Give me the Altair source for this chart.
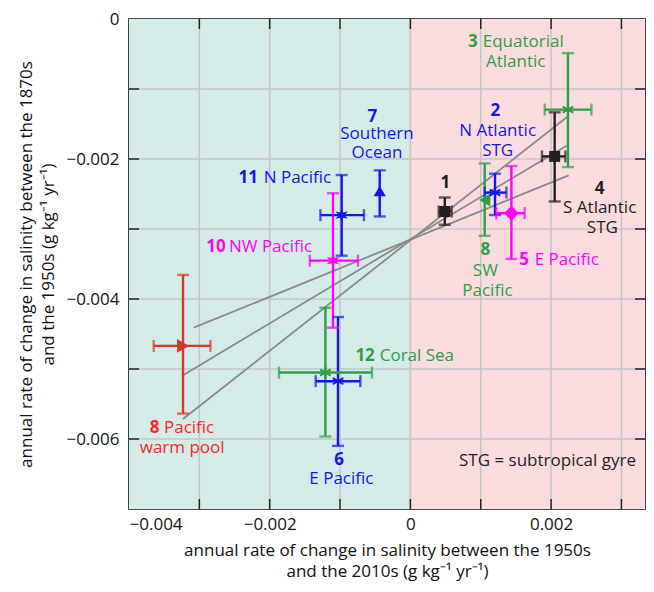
import math
import altair as alt
import pandas as pd

# ---------------- data ----------------
region_ids = ["1", "2", "3", "4", "5", "8sw", "7", "11", "10", "8wp", "12", "6"]
x_center = [0.000489, 0.001203, 0.00224, 0.002051, 0.001436, 0.001056,
            -0.000436, -0.000977, -0.0011, -0.003232, -0.001208, -0.001029]
y_center = [-0.00275, -0.00248, -0.001294, -0.001963, -0.002774, -0.002585,
            -0.002457, -0.002802, -0.003452, -0.00467, -0.00505, -0.005174]
x_low = [0.000402, 0.001056, 0.00191, 0.001871, 0.001222, 0.001056,
         -0.000436, -0.001279, -0.001431, -0.003649, -0.001868, -0.001346]
x_high = [0.000587, 0.001365, 0.002573, 0.002203, 0.001625, 0.001056,
          -0.000436, -0.00066, -0.000745, -0.002843, -0.000546, -0.000711]
y_low = [-0.00294, -0.0028, -0.002115, -0.002607, -0.003428, -0.003097,
         -0.002821, -0.003381, -0.00441, -0.005637, -0.005964, -0.006098]
y_high = [-0.00255, -0.00221, -0.000488, -0.001333, -0.0021, -0.002063,
          -0.002162, -0.002229, -0.002489, -0.003656, -0.004125, -0.004257]

# regression lines
fit_x1 = [-0.00308, -0.003232, -0.003232]
fit_y1 = [-0.00441, -0.005088, -0.005714]
fit_x2 = [0.00225, 0.002226, 0.00224]
fit_y2 = [-0.002233, -0.001807, -0.00139]

# axis extents and background halves
x_min, x_max = -0.004, 0.003335
y_min, y_max = -0.007, 0.0
bg_x1 = [x_min, 0.0]
bg_x2 = [0.0, x_max]

# grid / tick values
x_grid = [-0.003, -0.002, -0.001, 0.0, 0.001, 0.002, 0.003]
y_grid = [-0.006, -0.005, -0.004, -0.003, -0.002, -0.001]
x_ticks = [-0.004, -0.003, -0.002, -0.001, 0.0, 0.001, 0.002, 0.003]
y_ticks = [-0.007, -0.006, -0.005, -0.004, -0.003, -0.002, -0.001, 0.0]

# annotations: bold numbers
num_text = ["3", "2", "1", "4", "8", "5", "7", "11", "10", "12", "8", "6"]
num_region = ["3", "2", "1", "4", "8sw", "5", "7", "11", "10", "12", "8wp_t", "6"]
num_x = [0.000957, 0.001208, 0.000498, 0.002691, 0.001066, 0.001686,
         -0.00054, -0.002166, -0.002625, -0.000782, -0.003706, -0.001015]
num_y = [-0.000327, -0.001309, -0.002347, -0.002432, -0.0033, -0.003438,
         -0.001398, -0.002266, -0.003262, -0.004812, -0.005846, -0.006297]
num_align = ["right", "center", "center", "center", "center", "right",
             "center", "right", "right", "left", "left", "center"]

# annotations: names
name_text = ["Equatorial", "Atlantic", "N Atlantic", "STG", "S Atlantic", "STG",
             "SW", "Pacific", "E Pacific", "Southern", "Ocean", "N Pacific",
             "NW Pacific", "Coral Sea", "Pacific", "warm pool", "E Pacific",
             "STG = subtropical gyre"]
name_region = ["3", "3", "2", "2", "4", "4", "8sw", "8sw", "5", "7", "7", "11",
               "10", "12", "8wp_t", "8wp_t", "6", "note"]
name_x = [0.001028, 0.001497, 0.001241, 0.001241, 0.002691, 0.002729,
          0.001066, 0.001095, 0.001767, -0.000475, -0.000475, -0.002085,
          -0.002579, -0.000436, -0.003503, -0.003244, -0.000981, 0.001949]
name_y = [-0.000327, -0.000612, -0.001603, -0.001888, -0.002707, -0.002987,
          -0.003595, -0.003889, -0.003438, -0.001636, -0.001921, -0.002266,
          -0.003262, -0.004812, -0.005846, -0.006131, -0.006567, -0.006321]
name_align = ["left", "center", "center", "center", "center", "center",
              "center", "center", "left", "center", "center", "left",
              "left", "left", "left", "center", "center", "center"]

# ---------------- styles ----------------
BLUE = "#1616e8"
GREEN = "#2f9e48"
MAGENTA = "#ff00ff"
RED = "#d3362c"
BLACK = "#231f20"
FONT = "Open Sans"
FS = 17

region_domain = ["1", "2", "3", "4", "5", "8sw", "7", "11", "10", "8wp", "12", "6", "8wp_t", "note"]
region_colors = [BLACK, BLUE, GREEN, BLACK, MAGENTA, GREEN, BLUE, BLUE, MAGENTA, RED, GREEN, BLUE, "#f42a2a", BLACK]
col = alt.Color("region:N", scale=alt.Scale(domain=region_domain, range=region_colors), legend=None)

ASTER = "M0,-1L0,1M-0.866,-0.5L0.866,0.5M-0.866,0.5L0.866,-0.5"
_star_pts = []
for k in range(12):
    r = 1.0 if k % 2 == 0 else 0.42
    ang = math.pi / 2 + k * math.pi / 6
    _star_pts.append("%.3f,%.3f" % (r * math.cos(ang), -r * math.sin(ang)))
STAR = "M" + "L".join(_star_pts) + "Z"

W, H = 516, 490
xs = alt.Scale(domain=[x_min, x_max], nice=False, zero=False)
ys = alt.Scale(domain=[y_min, y_max], nice=False, zero=False)

label_expr = ("abs(round(datum.value*1000)) % 2 == 0 ? "
              "(abs(datum.value) < 1e-9 ? '0' : format(datum.value, '.3f')) : ''")

axis_style = dict(grid=False, ticks=False, domain=False, labelExpr=label_expr,
                  labelFont=FONT, labelFontSize=FS, labelColor="#111",
                  titleFont=FONT, titleFontSize=FS, titleFontWeight="normal",
                  titleColor="#111")
x_axis = alt.Axis(values=x_ticks, labelPadding=7, titlePadding=10, titleLineHeight=21,
                  title=["annual rate of change in salinity between the 1950s",
                         "and the 2010s (g kg\u207b\u00b9 yr\u207b\u00b9)"], **axis_style)
y_axis = alt.Axis(values=y_ticks, labelPadding=10, titlePadding=8, titleLineHeight=22,
                  title=["annual rate of change in salinity between the 1870s",
                         "and the 1950s  (g kg\u207b\u00b9 yr\u207b\u00b9)"], **axis_style)


def X(f):
    return alt.X(f, type="quantitative", scale=xs, axis=x_axis)


def Y(f):
    return alt.Y(f, type="quantitative", scale=ys, axis=y_axis)


bgdf = pd.DataFrame({"x1": bg_x1, "x2": bg_x2})
bg_left = alt.Chart(bgdf.iloc[[0]]).mark_rect(color="#d4ebe8").encode(
    x=X("x1"), x2="x2", y=alt.value(0), y2=alt.value(H))
bg_right = alt.Chart(bgdf.iloc[[1]]).mark_rect(color="#fadcde").encode(
    x=X("x1"), x2="x2", y=alt.value(0), y2=alt.value(H))

gxdf = pd.DataFrame({"v": x_grid})
gydf = pd.DataFrame({"v": y_grid})
gx = alt.Chart(gxdf).mark_rule(color="#c6c6c6", strokeWidth=1.5).encode(
    x=X("v"), y=alt.value(0), y2=alt.value(H))
gy = alt.Chart(gydf).mark_rule(color="#c6c6c6", strokeWidth=1.5).encode(
    y=Y("v"), x=alt.value(0), x2=alt.value(W))

tk = dict(color="#222", strokeWidth=1.5)
tx_b = alt.Chart(gxdf).mark_rule(**tk).encode(x=X("v"), y=alt.value(H), y2=alt.value(H - 10))
tx_t = alt.Chart(gxdf).mark_rule(**tk).encode(x=X("v"), y=alt.value(0), y2=alt.value(10))
ty_l = alt.Chart(gydf).mark_rule(**tk).encode(y=Y("v"), x=alt.value(0), x2=alt.value(10))
ty_r = alt.Chart(gydf).mark_rule(**tk).encode(y=Y("v"), x=alt.value(W), x2=alt.value(W - 10))

fits = alt.Chart(pd.DataFrame({"x1": fit_x1, "y1": fit_y1, "x2": fit_x2, "y2": fit_y2})).mark_rule(
    color="#8a8a8a", strokeWidth=1.8).encode(x=X("x1"), y=Y("y1"), x2="x2", y2="y2")

pts = pd.DataFrame({"region": region_ids, "x": x_center, "y": y_center,
                    "xlo": x_low, "xhi": x_high, "ylo": y_low, "yhi": y_high})
pts_h = pts[pts["xlo"] != pts["xhi"]]
EW = 2.4
vbar = alt.Chart(pts).mark_rule(strokeWidth=EW).encode(x=X("x"), y=Y("ylo"), y2="yhi", color=col)
hbar = alt.Chart(pts_h).mark_rule(strokeWidth=EW).encode(x=X("xlo"), x2="xhi", y=Y("y"), color=col)
vcap_lo = alt.Chart(pts).mark_tick(orient="horizontal", size=12, thickness=EW).encode(
    x=X("x"), y=Y("ylo"), color=col)
vcap_hi = alt.Chart(pts).mark_tick(orient="horizontal", size=12, thickness=EW).encode(
    x=X("x"), y=Y("yhi"), color=col)
hcap_lo = alt.Chart(pts_h).mark_tick(orient="vertical", size=12, thickness=EW).encode(
    x=X("xlo"), y=Y("y"), color=col)
hcap_hi = alt.Chart(pts_h).mark_tick(orient="vertical", size=12, thickness=EW).encode(
    x=X("xhi"), y=Y("y"), color=col)

marker_groups = [
    (["1", "4"], "square", 120, True),
    (["5"], "diamond", 220, True),
    (["8sw"], "triangle-left", 170, True),
    (["7"], "triangle-up", 150, True),
    (["11", "10"], STAR, 200, True),
    (["8wp"], "triangle-right", 190, True),
    (["2", "3", "12", "6"], ASTER, 150, False),
]
marker_layers = []
for ids, shape, size, filled in marker_groups:
    sub = pts[pts["region"].isin(ids)]
    kw = dict(shape=shape, size=size, filled=filled, opacity=1)
    if not filled:
        kw["strokeWidth"] = 2
    marker_layers.append(alt.Chart(sub).mark_point(**kw).encode(x=X("x"), y=Y("y"), color=col))

numdf = pd.DataFrame({"t": num_text, "region": num_region, "x": num_x, "y": num_y, "a": num_align})
namedf = pd.DataFrame({"t": name_text, "region": name_region, "x": name_x, "y": name_y, "a": name_align})
text_layers = []
for df, weight in [(numdf, "bold"), (namedf, "normal")]:
    for a in ["left", "center", "right"]:
        sub = df[df["a"] == a]
        if len(sub) == 0:
            continue
        text_layers.append(alt.Chart(sub).mark_text(
            font=FONT, fontSize=FS, fontWeight=weight, align=a, baseline="middle").encode(
            x=X("x"), y=Y("y"), text="t:N", color=col))

chart = alt.layer(bg_left, bg_right, gx, gy, tx_b, tx_t, ty_l, ty_r, fits,
                  vbar, hbar, vcap_lo, vcap_hi, hcap_lo, hcap_hi,
                  *marker_layers, *text_layers).properties(
    width=W, height=H, background="white",
    padding={"left": 9, "top": 2, "right": 0, "bottom": 2}
).configure_view(stroke="#111", strokeWidth=1.6)

chart.save("out.html", embed_options={"renderer": "svg", "actions": False})
